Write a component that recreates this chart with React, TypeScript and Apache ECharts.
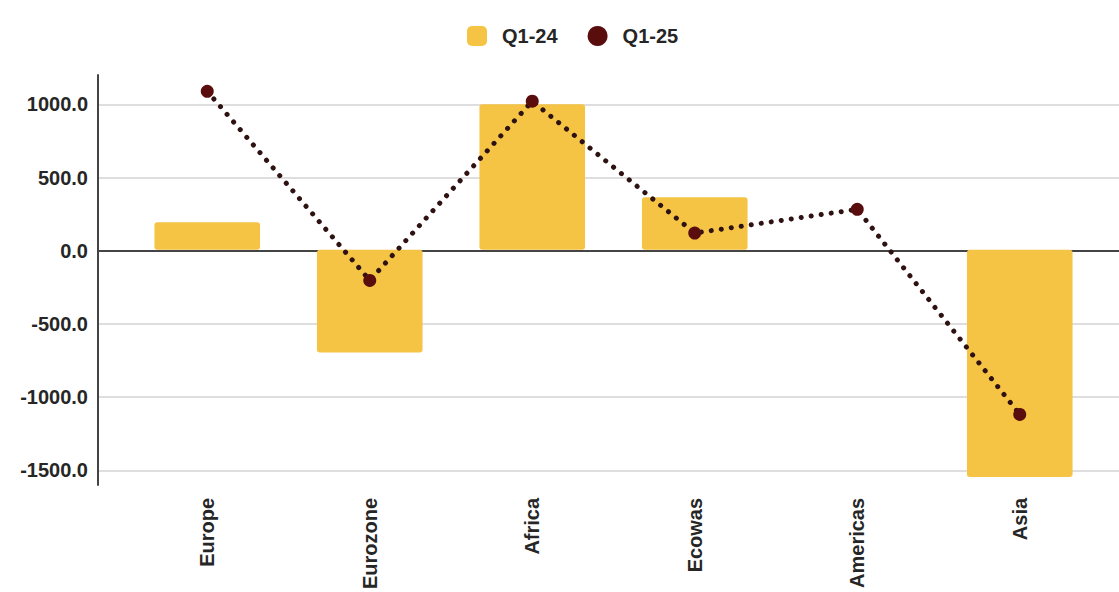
import React, { useEffect, useRef } from "react";
import * as echarts from "echarts";

// Regions shown along the category axis
const regions = ["Europe", "Eurozone", "Africa", "Ecowas", "Americas", "Asia"];
// Q1-24 values (bars)
const q124 = [190, -705, 1000, 360, 0, -1560];
// Q1-25 values (dotted line with markers)
const q125 = [1088, -210, 1020, 115, 278, -1130];
// Value-axis range
const yMin = -1600;
const yMax = 1200;

const FONT = '"Liberation Sans", Arial, sans-serif';
const TEXT = "#262626";
const BAR = "#F5C445";
const DOT = "#5a0d0d";

export default function App() {
  const ref = useRef<HTMLDivElement>(null);

  useEffect(() => {
    if (!ref.current) return;
    const chart = echarts.init(ref.current, undefined, { renderer: "svg" });
    chart.setOption({
      animation: false,
      backgroundColor: "#ffffff",
      legend: {
        left: 462,
        top: 21,
        itemWidth: 20,
        itemHeight: 20,
        itemGap: 30,
        textStyle: {
          fontFamily: FONT,
          fontSize: 20,
          fontWeight: "bold",
          color: TEXT,
          padding: [0, 0, 0, 10],
        },
        data: [
          { name: "Q1-24", icon: "roundRect" },
          { name: "Q1-25", icon: "circle" },
        ],
      },
      grid: [
        // frame: y axis, split lines and zero line across the full width
        { left: 98, right: 0, top: 75, bottom: 107 },
        // plotting area for the categories
        { left: 126, right: 18, top: 75, bottom: 107 },
      ],
      xAxis: [
        {
          gridIndex: 0,
          type: "value",
          min: 0,
          max: 1,
          axisLine: { show: true, onZero: true, lineStyle: { color: "#444444", width: 2 } },
          axisTick: { show: false },
          axisLabel: { show: false },
          splitLine: { show: false },
        },
        {
          gridIndex: 1,
          type: "category",
          data: regions,
          axisLine: { show: false, onZero: false },
          axisTick: { show: false },
          axisLabel: {
            rotate: 90,
            margin: 15,
            fontFamily: FONT,
            fontSize: 20,
            fontWeight: "bold",
            color: TEXT,
          },
          splitLine: { show: false },
        },
      ],
      yAxis: [
        {
          gridIndex: 0,
          type: "value",
          min: yMin,
          max: yMax,
          splitNumber: 5,
          axisLine: { show: true, lineStyle: { color: "#444444", width: 2 } },
          axisTick: { show: false },
          axisLabel: {
            margin: 10,
            showMinLabel: false,
            showMaxLabel: false,
            fontFamily: FONT,
            fontSize: 20,
            fontWeight: "bold",
            color: TEXT,
            formatter: (v: number) => v.toFixed(1),
          },
          splitLine: {
            show: true,
            showMinLine: false,
            showMaxLine: false,
            lineStyle: { color: "#dedede", width: 2 },
          },
        },
        {
          gridIndex: 1,
          type: "value",
          min: yMin,
          max: yMax,
          show: false,
          splitLine: { show: false },
        },
      ],
      series: [
        {
          name: "Q1-24",
          type: "bar",
          xAxisIndex: 1,
          yAxisIndex: 1,
          data: q124,
          barWidth: "65%",
          itemStyle: { color: BAR, borderRadius: 3 },
          z: 2,
        },
        {
          name: "Q1-25",
          type: "line",
          xAxisIndex: 1,
          yAxisIndex: 1,
          data: q125,
          symbol: "circle",
          symbolSize: 13,
          itemStyle: { color: DOT },
          lineStyle: {
            color: "#2e1212",
            width: 5,
            type: [0.1, 10],
            cap: "round",
          },
          z: 3,
        },
      ],
    });
    return () => chart.dispose();
  }, []);

  return (
    <div
      ref={ref}
      style={{ position: "fixed", left: 0, top: 0, width: 1119, height: 592, background: "#fff" }}
    />
  );
}
